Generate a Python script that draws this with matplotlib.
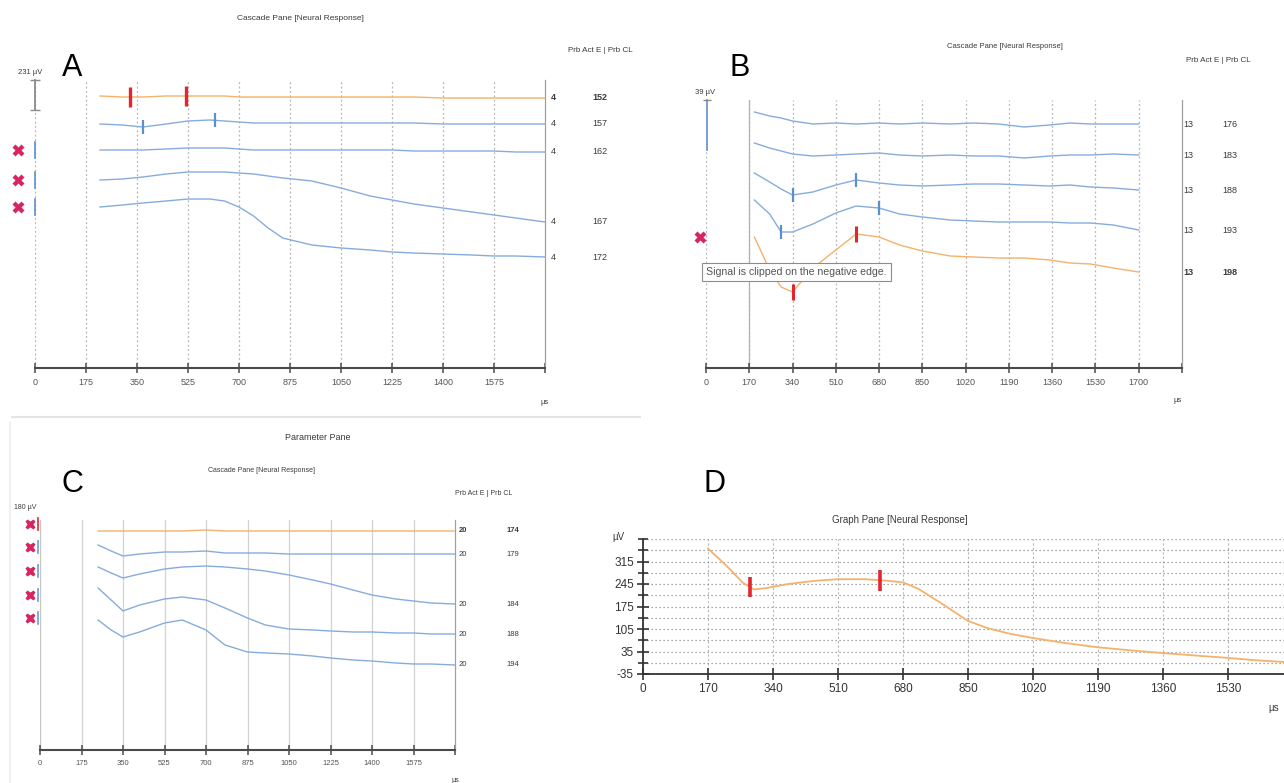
import numpy as np
import matplotlib
matplotlib.use('Agg')
import matplotlib.pyplot as plt
import matplotlib.transforms as mtransforms
from matplotlib.lines import Line2D

plt.rcParams['font.family'] = ['Liberation Sans', 'DejaVu Sans']

# ------------------------------------------------------------------ data
# Panel A  (time in µs, cascade display level)
a_time = [223, 300, 370, 450, 525, 600, 650, 700, 750, 800, 850, 950, 1050, 1150, 1225, 1300, 1400, 1500, 1575, 1650, 1750]
a_trace1 = [272, 271, 271, 272, 272, 272, 272, 271, 271, 271, 271, 271, 271, 271, 271, 271, 270, 270, 270, 270, 270]
a_trace2 = [244, 243, 241, 244, 247, 248, 247, 246, 245, 245, 245, 245, 245, 245, 245, 245, 244, 244, 244, 244, 244]
a_trace3 = [218, 218, 218, 219, 220, 220, 220, 219, 218, 218, 218, 218, 218, 218, 218, 217, 217, 217, 217, 216, 216]
a_trace4 = [188, 189, 191, 194, 196, 196, 196, 195, 194, 192, 190, 187, 180, 172, 168, 164, 160, 156, 153, 150, 146]
a_trace5 = [161, 163, 165, 167, 169, 169, 167, 161, 152, 140, 130, 123, 120, 118, 116, 115, 114, 113, 112, 112, 111]
a_act = ['4', '4', '4', '4', '4']
a_cl = ['152', '157', '162', '167', '172']
a_red_marks = [326, 518]
a_blue_marks = [371, 618]
a_ticks = [0, 175, 350, 525, 700, 875, 1050, 1225, 1400, 1575, 1750]
a_ticklabels = ['0', '175', '350', '525', '700', '875', '1050', '1225', '1400', '1575', '']

# Panel B
b_time = [190, 250, 295, 340, 420, 510, 590, 680, 760, 850, 960, 1050, 1150, 1250, 1350, 1430, 1510, 1600, 1700]
b_trace1 = [256, 252, 250, 247, 244, 245, 244, 245, 244, 245, 244, 245, 244, 241, 243, 245, 244, 244, 244]
b_trace2 = [225, 220, 217, 214, 212, 213, 214, 215, 213, 212, 213, 212, 212, 210, 212, 213, 213, 214, 213]
b_trace3 = [195, 186, 179, 173, 176, 183, 188, 185, 183, 182, 183, 184, 184, 183, 182, 183, 181, 180, 178]
b_trace4 = [168, 154, 136, 136, 144, 155, 162, 160, 154, 151, 148, 147, 146, 146, 146, 145, 145, 143, 138]
b_trace5 = [131, 98, 81, 76, 100, 118, 134, 131, 123, 117, 112, 111, 110, 110, 108, 105, 104, 100, 96]
b_act = ['13', '13', '13', '13', '13']
b_cl = ['176', '183', '188', '193', '198']
b_marks3 = [340, 590]
b_marks4 = [295, 680]
b_marks5 = [340, 590]
b_ticks = [0, 170, 340, 510, 680, 850, 1020, 1190, 1360, 1530, 1700, 1870]
b_ticklabels = ['0', '170', '340', '510', '680', '850', '1020', '1190', '1360', '1530', '1700', '']

# Panel C
c_time = [245, 300, 350, 420, 525, 600, 700, 780, 875, 950, 1050, 1150, 1225, 1320, 1400, 1500, 1575, 1650, 1750]
c_trace1 = [219, 219, 219, 219, 219, 219, 220, 219, 219, 219, 219, 219, 219, 219, 219, 219, 219, 219, 219]
c_trace2 = [205, 199, 194, 196, 198, 198, 199, 197, 197, 197, 196, 196, 196, 196, 196, 196, 196, 196, 196]
c_trace3 = [183, 177, 172, 176, 181, 183, 184, 183, 181, 179, 175, 170, 166, 160, 155, 151, 149, 147, 146]
c_trace4 = [162, 150, 139, 145, 151, 153, 150, 142, 132, 125, 121, 120, 119, 118, 118, 117, 117, 116, 116]
c_trace5 = [130, 120, 113, 118, 127, 130, 120, 105, 98, 97, 96, 94, 92, 90, 89, 87, 86, 86, 85]
c_act = ['20', '20', '20', '20', '20']
c_cl = ['174', '179', '184', '188', '194']
c_flag_levels = [226, 203, 179, 155, 132]

# Panel D  (µs, µV)
d_time = [170, 220, 260, 290, 320, 380, 450, 510, 580, 640, 680, 720, 780, 850, 900, 960, 1020, 1100, 1190, 1280, 1360, 1450, 1530, 1600, 1680]
d_uv = [355, 300, 250, 228, 232, 245, 255, 260, 260, 255, 250, 230, 185, 130, 108, 90, 77, 62, 48, 38, 30, 22, 15, 8, 2]
d_marks = [280, 620]
d_xticks = [0, 170, 340, 510, 680, 850, 1020, 1190, 1360, 1530, 1700]
d_xticklabels = ['0', '170', '340', '510', '680', '850', '1020', '1190', '1360', '1530', '']
d_yticks = [-35, 35, 105, 175, 245, 315]
d_yminor = [0, 70, 140, 210, 280, 350, 385]

# ------------------------------------------------------------------ style
W, H = 1284, 783
ORANGE = '#f4b26c'
BLUE = '#86acdd'
RED = '#e3262e'
PINK = '#d7265f'
TXT = '#3a3a3a'

fig = plt.figure(figsize=(W / 100, H / 100), dpi=100)
fig.patch.set_facecolor('white')


def px_axes(x0, y0, x1, y1):
    ax = fig.add_axes([x0 / W, 1 - y1 / H, (x1 - x0) / W, (y1 - y0) / H])
    ax.set_facecolor('none')
    return ax


def ftext(x, y, s, **kw):
    kw.setdefault('color', TXT)
    kw.setdefault('ha', 'center')
    kw.setdefault('va', 'center')
    fig.text(x / W, 1 - y / H, s, **kw)


def fline(xs, ys, **kw):
    fig.add_artist(Line2D([x / W for x in xs], [1 - y / H for y in ys], **kw))


def cascade(box, xlim, ylim, ticks, labels, grid_ls, grid_color, labelsize):
    ax = px_axes(*box)
    ax.set_xlim(*xlim)
    ax.set_ylim(*ylim)
    for s in ['left', 'top']:
        ax.spines[s].set_visible(False)
    ax.spines['right'].set_color('#a0a0a0')
    ax.spines['right'].set_linewidth(0.9)
    ax.spines['bottom'].set_color('#4a4a4a')
    ax.spines['bottom'].set_linewidth(1.5)
    ax.set_yticks([])
    ax.set_xticks(ticks)
    ax.set_xticklabels(labels)
    ax.tick_params(axis='x', direction='inout', length=7, width=1.1, color='#4a4a4a',
                   labelsize=labelsize, labelcolor='#555555', pad=4)
    for t in ticks[:-1]:
        ax.axvline(t, color=grid_color, ls=grid_ls, lw=0.9, zorder=0)
    return ax


def right_labels(ax, box, traces, act, cl, x_act, x_cl, bold_idx, size):
    tr = mtransforms.blended_transform_factory(ax.transAxes, ax.transData)
    x0, x1 = box[0], box[2]
    for i, (tv, a, c) in enumerate(zip(traces, act, cl)):
        fw = 'bold' if i == bold_idx else 'normal'
        ax.text((x_act - x0) / (x1 - x0), tv[-1], a, transform=tr, ha='center', va='center',
                fontsize=size, color=TXT, fontweight=fw, clip_on=False)
        ax.text((x_cl - x0) / (x1 - x0), tv[-1], c, transform=tr, ha='center', va='center',
                fontsize=size, color=TXT, fontweight=fw, clip_on=False)


def vmark(ax, t, times, vals, half, color, lw):
    y = np.interp(t, times, vals)
    ax.plot([t, t], [y - half, y + half], color=color, lw=lw, solid_capstyle='butt', zorder=5)


# ------------------------------------------------------------------ panel A
boxA = (35, 80, 545, 368)
axA = cascade(boxA, (0, 1750), (0, 288), a_ticks, a_ticklabels, (0, (1.5, 2)), '#b5b5b5', 6.5)
a_all = [a_trace1, a_trace2, a_trace3, a_trace4, a_trace5]
for i, tv in enumerate(a_all):
    axA.plot(a_time, tv, color=ORANGE if i == 0 else BLUE, lw=1.0, zorder=3)
for t in a_red_marks:
    vmark(axA, t, a_time, a_trace1, 10, RED, 2.4)
for t in a_blue_marks:
    vmark(axA, t, a_time, a_trace2, 7, '#5b8fd0', 1.6)
right_labels(axA, boxA, a_all, a_act, a_cl, 553, 600, 0, 6.5)
trA = mtransforms.blended_transform_factory(axA.transAxes, axA.transData)
for tv in a_all[2:]:
    axA.plot([-0.033], [tv[0]], marker='X', ms=8, color=PINK, mec='none', transform=trA, clip_on=False)
    axA.plot([0.0, 0.0], [tv[0] - 8, tv[0] + 8], color='#5b8fd0', lw=1.2, transform=trA, clip_on=False)
axA.plot([0.0, 0.0], [258, 288], color='#8a8a8a', lw=1.3, marker='_', ms=7, transform=trA, clip_on=False)
ftext(30, 73, '231 µV', fontsize=5.5)
ftext(72, 68, 'A', fontsize=22, color='black')
ftext(300, 19, 'Cascade Pane [Neural Response]', fontsize=6)
ftext(568, 50, 'Prb Act E | Prb CL', fontsize=5.8, ha='left')
ftext(545, 402, 'µs', fontsize=5.5)

# ------------------------------------------------------------------ panel B
boxB = (706, 100, 1182, 368)
axB = cascade(boxB, (0, 1870), (0, 268), b_ticks, b_ticklabels, (0, (1.5, 2)), '#b5b5b5', 6.5)
axB.axvline(170, color='#b0b0b0', lw=0.9, zorder=0)
b_all = [b_trace1, b_trace2, b_trace3, b_trace4, b_trace5]
for i, tv in enumerate(b_all):
    axB.plot(b_time, tv, color=ORANGE if i == 4 else BLUE, lw=1.0, zorder=3)
for t in b_marks3:
    vmark(axB, t, b_time, b_trace3, 7, '#5b8fd0', 1.6)
for t in b_marks4:
    vmark(axB, t, b_time, b_trace4, 7, '#5b8fd0', 1.6)
for t in b_marks5:
    vmark(axB, t, b_time, b_trace5, 8, RED, 2.2)
right_labels(axB, boxB, b_all, b_act, b_cl, 1188, 1230, 4, 6.5)
trB = mtransforms.blended_transform_factory(axB.transAxes, axB.transData)
axB.plot([-0.013], [b_trace5[0]], marker='X', ms=8, color=PINK, mec='none', transform=trB, clip_on=False)
axB.plot([0.002, 0.002], [218, 268], color='#6d9ad6', lw=1.3, transform=trB, clip_on=False)
axB.plot([0.002], [268], marker='_', ms=6, color='#8a8a8a', transform=trB, clip_on=False)
ftext(705, 93, '39 µV', fontsize=5.5)
ftext(740, 68, 'B', fontsize=22, color='black')
ftext(1005, 47, 'Cascade Pane [Neural Response]', fontsize=5.5)
ftext(1186, 60, 'Prb Act E | Prb CL', fontsize=5.8, ha='left')
ftext(1178, 400, 'µs', fontsize=5.5)
ftext(706, 272, 'Signal is clipped on the negative edge.', fontsize=7.6, ha='left', color='#555555',
      bbox=dict(boxstyle='square,pad=0.4', fc='white', ec='#8c8c8c', lw=0.8), zorder=10)

# ------------------------------------------------------------------ panel C
boxC = (40, 520, 455, 750)
axC = cascade(boxC, (0, 1750), (0, 230), a_ticks, a_ticklabels, '-', '#d2d2d2', 5.5)
axC.axvline(0, color='#c8c8c8', lw=0.9, zorder=0)
c_all = [c_trace1, c_trace2, c_trace3, c_trace4, c_trace5]
for i, tv in enumerate(c_all):
    axC.plot(c_time, tv, color=ORANGE if i == 0 else BLUE, lw=1.0, zorder=3)
right_labels(axC, boxC, c_all, c_act, c_cl, 463, 513, 0, 5.5)
trC = mtransforms.blended_transform_factory(axC.transAxes, axC.transData)
for i, lvl in enumerate(c_flag_levels):
    axC.plot([-0.024], [lvl], marker='X', ms=7.5, color=PINK, mec='none', transform=trC, clip_on=False)
    axC.plot([-0.005, -0.005], [lvl - 6, lvl + 6], color=RED if i == 0 else '#6d9ad6', lw=1.2,
             transform=trC, clip_on=False)
ftext(25, 508, '180 µV', fontsize=5)
ftext(72, 484, 'C', fontsize=22, color='black')
ftext(318, 438, 'Parameter Pane', fontsize=6.5)
ftext(262, 470, 'Cascade Pane [Neural Response]', fontsize=5)
ftext(455, 494, 'Prb Act E | Prb CL', fontsize=5, ha='left')
ftext(455, 780, 'µs', fontsize=5)

# separators between screenshots
fline([12, 640], [417, 417], color='#e4e4e4', lw=1.5)
fline([10, 10], [422, 783], color='#eeeeee', lw=1.2)

# ------------------------------------------------------------------ panel D
axD = px_axes(643, 539, 1300, 674)
axD.set_xlim(0, 1718)
axD.set_ylim(-35, 385)
for s in ['top', 'right']:
    axD.spines[s].set_visible(False)
for s in ['left', 'bottom']:
    axD.spines[s].set_color('#333333')
    axD.spines[s].set_linewidth(1.3)
axD.set_xticks(d_xticks)
axD.set_xticklabels(d_xticklabels)
axD.set_yticks(d_yticks)
axD.set_yticklabels([str(v) for v in d_yticks])
axD.set_yticks(d_yminor, minor=True)
axD.tick_params(axis='both', which='major', direction='inout', length=9, width=1.2, color='#333333',
                labelsize=8.5, labelcolor='#333333', pad=2)
axD.tick_params(axis='y', which='minor', direction='inout', length=7, width=1.2, color='#333333')
axD.grid(axis='y', which='both', ls=(0, (1, 2.2)), color='#8c8c8c', lw=0.9)
axD.grid(axis='x', which='major', ls=(0, (2, 2)), color='#b8b8b8', lw=0.8)
axD.set_axisbelow(True)
axD.plot(d_time, d_uv, color=ORANGE, lw=1.3, zorder=3)
for t in d_marks:
    vmark(axD, t, d_time, d_uv, 32, RED, 2.6)
ftext(715, 484, 'D', fontsize=22, color='black')
ftext(900, 520, 'Graph Pane [Neural Response]', fontsize=7)
ftext(612, 537, 'µV', fontsize=7, ha='left')
ftext(1268, 708, 'µs', fontsize=7, ha='left')

fig.savefig('out.png', dpi=100, facecolor='white')
